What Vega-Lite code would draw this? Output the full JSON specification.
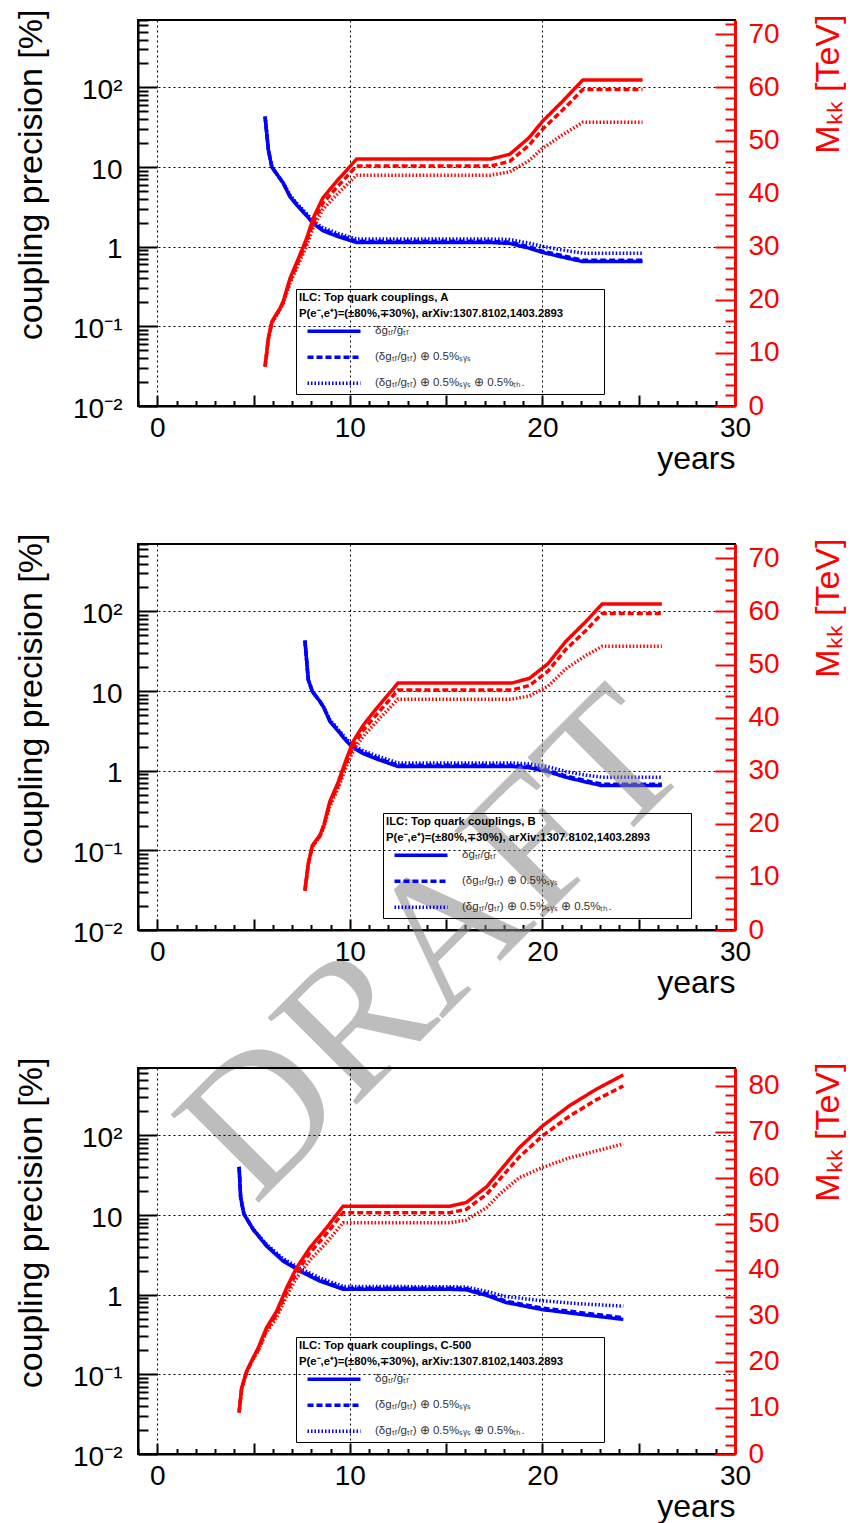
{
"$schema": "https://vega.github.io/schema/vega-lite/v6.json",
"background": "white",
"padding": {"left": 13, "top": 8, "right": 0, "bottom": 0},
"spacing": 138,
"bounds": "flush",
"config": {
 "font": "Liberation Sans",
 "view": {"stroke": "black", "strokeWidth": 2},
 "line": {"strokeWidth": 3.5, "strokeCap": "butt"},
 "axisBottom": {"labelFontSize": 28, "labelColor": "black", "labelFlush": false, "labelOverlap": false, "labelAngle": 0, "labelPadding": 19, "tickColor": "black", "tickWidth": 2, "domainColor": "black", "domainWidth": 2, "grid": true, "gridColor": "black", "gridDash": [2, 3], "gridWidth": 1, "titleFontSize": 32, "titleFontWeight": "normal", "titleColor": "black", "titleX": 597, "titleY": 62, "titleAlign": "right", "titleBaseline": "alphabetic"},
 "axisLeft": {"labelFontSize": 28, "labelColor": "black", "labelOverlap": false, "labelFlush": false, "labelPadding": 35, "labelOffset": 3, "tickColor": "black", "tickWidth": 2, "domainColor": "black", "domainWidth": 2, "grid": true, "gridColor": "black", "gridDash": [2, 3], "gridWidth": 1, "titleFontSize": 34, "titleFontWeight": "normal", "titleColor": "black", "titleAngle": 270, "titleX": -96.5, "titleY": -11, "titleAlign": "right", "titleBaseline": "alphabetic"},
 "axisRight": {"labelFontSize": 28, "labelColor": "#ff0000", "labelOverlap": false, "labelFlush": false, "labelPadding": 33, "tickColor": "#ff0000", "tickWidth": 2, "domainColor": "#ff0000", "domainWidth": 3, "grid": false, "titleFontSize": 34, "titleFontWeight": "normal", "titleColor": "#ff0000", "titleAngle": 270, "titleX": 103, "titleY": -6, "titleAlign": "right", "titleBaseline": "alphabetic"},
 "legend": {"titleFontSize": 11.3, "titleFontWeight": "bold", "titleColor": "black", "titleLimit": 1000, "titleLineHeight": 16, "titlePadding": 0, "labelFontSize": 11.5, "labelColor": "#333333", "labelLimit": 1000, "labelOffset": 29, "symbolType": "M-2.65,0H2.65", "symbolSize": 400, "symbolStrokeWidth": 3.5, "symbolStrokeColor": "#0000ff", "symbolOffset": 23, "rowPadding": 7, "strokeColor": "black", "padding": 3}
},
"datasets": {
 "Ap": [
  {"x":5.6,"k":"s","v":43},{"x":5.77,"k":"s","v":16.5},{"x":5.95,"k":"s","v":10},{"x":6.37,"k":"s","v":7.2},{"x":6.54,"k":"s","v":6.3},{"x":6.9,"k":"s","v":4.2},{"x":7.33,"k":"s","v":3.16},{"x":7.76,"k":"s","v":2.44},{"x":8.1,"k":"s","v":1.95},{"x":8.6,"k":"s","v":1.59},{"x":9.31,"k":"s","v":1.36},{"x":10.35,"k":"s","v":1.13},{"x":17.3,"k":"s","v":1.13},{"x":18.3,"k":"s","v":1.1},{"x":19.3,"k":"s","v":0.96},{"x":20.0,"k":"s","v":0.85},{"x":21.05,"k":"s","v":0.74},{"x":22.1,"k":"s","v":0.65},{"x":25.2,"k":"s","v":0.65},
  {"x":5.6,"k":"d","v":43},{"x":5.77,"k":"d","v":16.5},{"x":5.95,"k":"d","v":10},{"x":6.37,"k":"d","v":7.2},{"x":6.54,"k":"d","v":6.3},{"x":6.9,"k":"d","v":4.29},{"x":7.33,"k":"d","v":3.22},{"x":7.76,"k":"d","v":2.49},{"x":8.1,"k":"d","v":2.01},{"x":8.6,"k":"d","v":1.64},{"x":9.31,"k":"d","v":1.41},{"x":10.35,"k":"d","v":1.17},{"x":17.3,"k":"d","v":1.17},{"x":18.3,"k":"d","v":1.14},{"x":19.3,"k":"d","v":1.0},{"x":20.0,"k":"d","v":0.88},{"x":21.05,"k":"d","v":0.77},{"x":22.1,"k":"d","v":0.676},{"x":25.2,"k":"d","v":0.676},
  {"x":5.6,"k":"t","v":43},{"x":5.77,"k":"t","v":16.5},{"x":5.95,"k":"t","v":10},{"x":6.37,"k":"t","v":7.2},{"x":6.54,"k":"t","v":6.36},{"x":6.9,"k":"t","v":4.42},{"x":7.33,"k":"t","v":3.33},{"x":7.76,"k":"t","v":2.6},{"x":8.1,"k":"t","v":2.1},{"x":8.6,"k":"t","v":1.73},{"x":9.31,"k":"t","v":1.49},{"x":10.35,"k":"t","v":1.25},{"x":17.3,"k":"t","v":1.25},{"x":18.3,"k":"t","v":1.23},{"x":19.3,"k":"t","v":1.11},{"x":20.0,"k":"t","v":1.01},{"x":21.05,"k":"t","v":0.91},{"x":22.1,"k":"t","v":0.83},{"x":25.2,"k":"t","v":0.83}
 ],
 "Am": [
  {"x":5.6,"k":"s","v":7.5},{"x":5.77,"k":"s","v":12.8},{"x":5.95,"k":"s","v":15.9},{"x":6.37,"k":"s","v":18.4},{"x":6.54,"k":"s","v":19.7},{"x":6.9,"k":"s","v":24.1},{"x":7.33,"k":"s","v":27.8},{"x":7.76,"k":"s","v":31.6},{"x":8.1,"k":"s","v":35.4},{"x":8.6,"k":"s","v":39.2},{"x":9.31,"k":"s","v":42.3},{"x":10.35,"k":"s","v":46.5},{"x":17.3,"k":"s","v":46.5},{"x":18.3,"k":"s","v":47.4},{"x":19.3,"k":"s","v":50.5},{"x":20.0,"k":"s","v":53.6},{"x":21.05,"k":"s","v":57.4},{"x":22.1,"k":"s","v":61.4},{"x":25.2,"k":"s","v":61.4},
  {"x":5.6,"k":"d","v":7.43},{"x":5.77,"k":"d","v":12.67},{"x":5.95,"k":"d","v":15.74},{"x":6.37,"k":"d","v":18.22},{"x":6.54,"k":"d","v":19.5},{"x":6.9,"k":"d","v":23.62},{"x":7.33,"k":"d","v":27.24},{"x":7.76,"k":"d","v":30.97},{"x":8.1,"k":"d","v":34.52},{"x":8.6,"k":"d","v":38.22},{"x":9.31,"k":"d","v":41.12},{"x":10.35,"k":"d","v":45.2},{"x":17.3,"k":"d","v":45.2},{"x":18.3,"k":"d","v":46.07},{"x":19.3,"k":"d","v":49.09},{"x":20.0,"k":"d","v":52.1},{"x":21.05,"k":"d","v":55.74},{"x":22.1,"k":"d","v":59.62},{"x":25.2,"k":"d","v":59.62},
  {"x":5.6,"k":"t","v":7.39},{"x":5.77,"k":"t","v":12.61},{"x":5.95,"k":"t","v":15.66},{"x":6.37,"k":"t","v":18.12},{"x":6.54,"k":"t","v":19.31},{"x":6.9,"k":"t","v":23.14},{"x":7.33,"k":"t","v":26.69},{"x":7.76,"k":"t","v":30.18},{"x":8.1,"k":"t","v":33.63},{"x":8.6,"k":"t","v":37.04},{"x":9.31,"k":"t","v":39.76},{"x":10.35,"k":"t","v":43.48},{"x":17.3,"k":"t","v":43.48},{"x":18.3,"k":"t","v":44.08},{"x":19.3,"k":"t","v":46.21},{"x":20.0,"k":"t","v":48.51},{"x":21.05,"k":"t","v":51.09},{"x":22.1,"k":"t","v":53.42},{"x":25.2,"k":"t","v":53.42}
 ],
 "Bp": [
  {"x":7.67,"k":"s","v":43},{"x":7.84,"k":"s","v":14},{"x":8.05,"k":"s","v":9.9},{"x":8.45,"k":"s","v":7.4},{"x":8.65,"k":"s","v":6.2},{"x":8.96,"k":"s","v":4.17},{"x":9.4,"k":"s","v":3.13},{"x":9.83,"k":"s","v":2.34},{"x":10.17,"k":"s","v":1.94},{"x":10.7,"k":"s","v":1.64},{"x":11.4,"k":"s","v":1.4},{"x":12.5,"k":"s","v":1.13},{"x":18.4,"k":"s","v":1.13},{"x":19.33,"k":"s","v":1.09},{"x":20.3,"k":"s","v":0.97},{"x":21.2,"k":"s","v":0.83},{"x":22.26,"k":"s","v":0.72},{"x":23.1,"k":"s","v":0.65},{"x":26.2,"k":"s","v":0.65},
  {"x":7.67,"k":"d","v":43},{"x":7.84,"k":"d","v":14},{"x":8.05,"k":"d","v":9.9},{"x":8.45,"k":"d","v":7.4},{"x":8.65,"k":"d","v":6.2},{"x":8.96,"k":"d","v":4.26},{"x":9.4,"k":"d","v":3.19},{"x":9.83,"k":"d","v":2.39},{"x":10.17,"k":"d","v":2.0},{"x":10.7,"k":"d","v":1.69},{"x":11.4,"k":"d","v":1.45},{"x":12.5,"k":"d","v":1.17},{"x":18.4,"k":"d","v":1.17},{"x":19.33,"k":"d","v":1.13},{"x":20.3,"k":"d","v":1.01},{"x":21.2,"k":"d","v":0.86},{"x":22.26,"k":"d","v":0.75},{"x":23.1,"k":"d","v":0.676},{"x":26.2,"k":"d","v":0.676},
  {"x":7.67,"k":"t","v":43},{"x":7.84,"k":"t","v":14},{"x":8.05,"k":"t","v":9.9},{"x":8.45,"k":"t","v":7.4},{"x":8.65,"k":"t","v":6.26},{"x":8.96,"k":"t","v":4.39},{"x":9.4,"k":"t","v":3.29},{"x":9.83,"k":"t","v":2.49},{"x":10.17,"k":"t","v":2.09},{"x":10.7,"k":"t","v":1.78},{"x":11.4,"k":"t","v":1.54},{"x":12.5,"k":"t","v":1.25},{"x":18.4,"k":"t","v":1.25},{"x":19.33,"k":"t","v":1.22},{"x":20.3,"k":"t","v":1.12},{"x":21.2,"k":"t","v":0.98},{"x":22.26,"k":"t","v":0.88},{"x":23.1,"k":"t","v":0.83},{"x":26.2,"k":"t","v":0.83}
 ],
 "Bm": [
  {"x":7.67,"k":"s","v":7.5},{"x":7.84,"k":"s","v":12.5},{"x":8.05,"k":"s","v":15.9},{"x":8.45,"k":"s","v":17.9},{"x":8.65,"k":"s","v":19.8},{"x":8.96,"k":"s","v":24.2},{"x":9.4,"k":"s","v":27.9},{"x":9.83,"k":"s","v":32.3},{"x":10.17,"k":"s","v":35.5},{"x":10.7,"k":"s","v":38.6},{"x":11.4,"k":"s","v":41.8},{"x":12.5,"k":"s","v":46.5},{"x":18.4,"k":"s","v":46.5},{"x":19.33,"k":"s","v":47.4},{"x":20.3,"k":"s","v":50.2},{"x":21.2,"k":"s","v":54.3},{"x":22.26,"k":"s","v":58.1},{"x":23.1,"k":"s","v":61.4},{"x":26.2,"k":"s","v":61.4},
  {"x":7.67,"k":"d","v":7.43},{"x":7.84,"k":"d","v":12.38},{"x":8.05,"k":"d","v":15.74},{"x":8.45,"k":"d","v":17.72},{"x":8.65,"k":"d","v":19.6},{"x":8.96,"k":"d","v":23.72},{"x":9.4,"k":"d","v":27.34},{"x":9.83,"k":"d","v":31.65},{"x":10.17,"k":"d","v":34.61},{"x":10.7,"k":"d","v":37.64},{"x":11.4,"k":"d","v":40.63},{"x":12.5,"k":"d","v":45.2},{"x":18.4,"k":"d","v":45.2},{"x":19.33,"k":"d","v":46.07},{"x":20.3,"k":"d","v":48.79},{"x":21.2,"k":"d","v":52.78},{"x":22.26,"k":"d","v":56.42},{"x":23.1,"k":"d","v":59.62},{"x":26.2,"k":"d","v":59.62},
  {"x":7.67,"k":"t","v":7.39},{"x":7.84,"k":"t","v":12.31},{"x":8.05,"k":"t","v":15.66},{"x":8.45,"k":"t","v":17.63},{"x":8.65,"k":"t","v":19.4},{"x":8.96,"k":"t","v":23.23},{"x":9.4,"k":"t","v":26.78},{"x":9.83,"k":"t","v":30.85},{"x":10.17,"k":"t","v":33.73},{"x":10.7,"k":"t","v":36.48},{"x":11.4,"k":"t","v":39.29},{"x":12.5,"k":"t","v":43.48},{"x":18.4,"k":"t","v":43.48},{"x":19.33,"k":"t","v":44.08},{"x":20.3,"k":"t","v":45.93},{"x":21.2,"k":"t","v":49.14},{"x":22.26,"k":"t","v":51.71},{"x":23.1,"k":"t","v":53.42},{"x":26.2,"k":"t","v":53.42}
 ],
 "Cp": [
  {"x":4.25,"k":"s","v":40.4},{"x":4.33,"k":"s","v":16.6},{"x":4.5,"k":"s","v":10.3},{"x":4.98,"k":"s","v":6.6},{"x":5.67,"k":"s","v":4.1},{"x":6.53,"k":"s","v":2.65},{"x":7.39,"k":"s","v":1.99},{"x":8.42,"k":"s","v":1.49},{"x":9.65,"k":"s","v":1.17},{"x":15.2,"k":"s","v":1.17},{"x":16.05,"k":"s","v":1.15},{"x":17.1,"k":"s","v":0.98},{"x":18.1,"k":"s","v":0.8},{"x":20.0,"k":"s","v":0.65},{"x":21.9,"k":"s","v":0.57},{"x":24.2,"k":"s","v":0.49},
  {"x":4.25,"k":"d","v":40.4},{"x":4.33,"k":"d","v":16.6},{"x":4.5,"k":"d","v":10.3},{"x":4.98,"k":"d","v":6.6},{"x":5.67,"k":"d","v":4.2},{"x":6.53,"k":"d","v":2.72},{"x":7.39,"k":"d","v":2.05},{"x":8.42,"k":"d","v":1.54},{"x":9.65,"k":"d","v":1.21},{"x":15.2,"k":"d","v":1.21},{"x":16.05,"k":"d","v":1.19},{"x":17.1,"k":"d","v":1.02},{"x":18.1,"k":"d","v":0.83},{"x":20.0,"k":"d","v":0.68},{"x":21.9,"k":"d","v":0.6},{"x":24.2,"k":"d","v":0.515},
  {"x":4.25,"k":"t","v":40.4},{"x":4.33,"k":"t","v":16.6},{"x":4.5,"k":"t","v":10.4},{"x":4.98,"k":"t","v":6.7},{"x":5.67,"k":"t","v":4.3},{"x":6.53,"k":"t","v":2.85},{"x":7.39,"k":"t","v":2.16},{"x":8.42,"k":"t","v":1.64},{"x":9.65,"k":"t","v":1.27},{"x":15.2,"k":"t","v":1.26},{"x":16.05,"k":"t","v":1.25},{"x":17.1,"k":"t","v":1.1},{"x":18.1,"k":"t","v":0.95},{"x":20.0,"k":"t","v":0.84},{"x":21.9,"k":"t","v":0.77},{"x":24.2,"k":"t","v":0.72}
 ],
 "Cm": [
  {"x":4.25,"k":"s","v":9.1},{"x":4.38,"k":"s","v":14.3},{"x":4.64,"k":"s","v":18.0},{"x":4.98,"k":"s","v":20.9},{"x":5.24,"k":"s","v":23.0},{"x":5.67,"k":"s","v":27.4},{"x":6.2,"k":"s","v":31.0},{"x":6.72,"k":"s","v":36.1},{"x":7.23,"k":"s","v":40.4},{"x":7.93,"k":"s","v":44.8},{"x":8.79,"k":"s","v":49.1},{"x":9.65,"k":"s","v":53.8},{"x":15.2,"k":"s","v":53.8},{"x":16.05,"k":"s","v":54.6},{"x":17.1,"k":"s","v":58.0},{"x":17.8,"k":"s","v":61.5},{"x":18.8,"k":"s","v":66.5},{"x":20.0,"k":"s","v":71.2},{"x":21.4,"k":"s","v":75.6},{"x":22.8,"k":"s","v":79.2},{"x":24.2,"k":"s","v":82.3},
  {"x":4.25,"k":"d","v":9.0},{"x":4.38,"k":"d","v":14.16},{"x":4.64,"k":"d","v":17.82},{"x":4.98,"k":"d","v":20.69},{"x":5.24,"k":"d","v":22.54},{"x":5.67,"k":"d","v":26.85},{"x":6.2,"k":"d","v":30.38},{"x":6.72,"k":"d","v":35.2},{"x":7.23,"k":"d","v":39.39},{"x":7.93,"k":"d","v":43.68},{"x":8.79,"k":"d","v":47.82},{"x":9.65,"k":"d","v":52.4},{"x":15.2,"k":"d","v":52.4},{"x":16.05,"k":"d","v":53.13},{"x":17.1,"k":"d","v":56.38},{"x":17.8,"k":"d","v":59.72},{"x":18.8,"k":"d","v":64.5},{"x":20.0,"k":"d","v":69.06},{"x":21.4,"k":"d","v":73.33},{"x":22.8,"k":"d","v":76.9},{"x":24.2,"k":"d","v":79.91},
  {"x":4.25,"k":"t","v":8.96},{"x":4.38,"k":"t","v":14.09},{"x":4.64,"k":"t","v":17.73},{"x":4.98,"k":"t","v":20.59},{"x":5.24,"k":"t","v":22.43},{"x":5.67,"k":"t","v":26.44},{"x":6.2,"k":"t","v":29.61},{"x":6.72,"k":"t","v":34.3},{"x":7.23,"k":"t","v":38.18},{"x":7.93,"k":"t","v":42.11},{"x":8.79,"k":"t","v":45.91},{"x":9.65,"k":"t","v":50.2},{"x":15.2,"k":"t","v":50.2},{"x":16.05,"k":"t","v":50.8},{"x":17.1,"k":"t","v":53.5},{"x":17.8,"k":"t","v":56.5},{"x":18.8,"k":"t","v":60.0},{"x":20.0,"k":"t","v":62.2},{"x":21.4,"k":"t","v":64.3},{"x":22.8,"k":"t","v":65.8},{"x":24.2,"k":"t","v":67.3}
 ],
 "W": [{"x": 14.4, "m": -3, "w": "DRAFT"}]
},
"vconcat": [
 {
  "width": 597, "height": 386,
  "encoding": {
   "x": {"field": "x", "type": "quantitative", "scale": {"domain": [-1, 30], "nice": false, "zero": false},
    "axis": {"orient": "bottom", "title": "years", "values": [-1,0,1,2,3,4,5,6,7,8,9,10,11,12,13,14,15,16,17,18,19,20,21,22,23,24,25,26,27,28,29,30], "labelExpr": "datum.value % 10 == 0 ? datum.label : ''", "tickSize": {"condition": {"test": "datum.value % 5 == 0", "value": -11}, "value": -5.5}, "gridOpacity": {"condition": {"test": "datum.value == 0 || datum.value == 10 || datum.value == 20", "value": 1}, "value": 0}}}
  },
  "layer": [
   {
    "data": {"name": "Ap"},
    "mark": {"type": "line", "color": "#0000ff"},
    "encoding": {
     "y": {"field": "v", "type": "quantitative", "scale": {"type": "log", "domain": [0.01, 703], "nice": false},
      "axis": {"orient": "left", "title": "coupling precision [%]", "values": [0.01,0.02,0.03,0.04,0.05,0.06,0.07,0.08,0.09,0.1,0.2,0.3,0.4,0.5,0.6,0.7,0.8,0.9,1,2,3,4,5,6,7,8,9,10,20,30,40,50,60,70,80,90,100,200,300,400,500,600,700], "labelExpr": "datum.value == 0.01 ? '10⁻²' : datum.value == 0.1 ? '10⁻¹' : datum.value == 1 ? '1' : datum.value == 10 ? '10' : datum.value == 100 ? '10²' : ''", "tickSize": {"condition": {"test": "indexof([0.01,0.1,1,10,100], datum.value) >= 0", "value": -19}, "value": -10}, "gridOpacity": {"condition": {"test": "indexof([0.1,1,10,100], datum.value) >= 0", "value": 1}, "value": 0}}},
     "strokeDash": {"field": "k", "type": "nominal", "scale": {"domain": ["s", "d", "t"], "range": [[1, 0], [6, 3], [1.5, 2]]},
      "legend": {"orient": "none", "legendX": 158, "legendY": 269, "title": ["ILC: Top quark couplings, A", "P(e⁻,e⁺)=(±80%,∓30%), arXiv:1307.8102,1403.2893\u00a0\u00a0\u00a0\u00a0\u00a0\u00a0\u00a0\u00a0\u00a0\u00a0\u00a0\u00a0\u200b"], "labelExpr": "datum.value == 's' ? 'δgₜᵣ/gₜᵣ' : datum.value == 'd' ? '(δgₜᵣ/gₜᵣ) ⊕ 0.5%ₛᵧₛ' : '(δgₜᵣ/gₜᵣ) ⊕ 0.5%ₛᵧₛ ⊕ 0.5%ₜₕ.'"}}
    }
   },
   {
    "data": {"name": "Am"},
    "mark": {"type": "line", "color": "#ff0000"},
    "encoding": {
     "y": {"field": "v", "type": "quantitative", "scale": {"domain": [0, 72.7], "nice": false, "zero": false},
      "axis": {"orient": "right", "title": "Mₖₖ [TeV]", "values": [0,2,4,6,8,10,12,14,16,18,20,22,24,26,28,30,32,34,36,38,40,42,44,46,48,50,52,54,56,58,60,62,64,66,68,70,72], "labelExpr": "datum.value % 10 == 0 ? datum.label : ''", "tickSize": {"condition": {"test": "datum.value % 10 == 0", "value": -20}, "value": -10}}},
     "strokeDash": {"field": "k", "type": "nominal", "scale": {"domain": ["s", "d", "t"], "range": [[1, 0], [6, 3], [1.5, 2]]}, "legend": null}
    }
   }
  ],
  "resolve": {"scale": {"y": "independent", "strokeDash": "independent"}}
 },
 {
  "width": 597, "height": 386,
  "encoding": {
   "x": {"field": "x", "type": "quantitative", "scale": {"domain": [-1, 30], "nice": false, "zero": false},
    "axis": {"orient": "bottom", "title": "years", "values": [-1,0,1,2,3,4,5,6,7,8,9,10,11,12,13,14,15,16,17,18,19,20,21,22,23,24,25,26,27,28,29,30], "labelExpr": "datum.value % 10 == 0 ? datum.label : ''", "tickSize": {"condition": {"test": "datum.value % 5 == 0", "value": -11}, "value": -5.5}, "gridOpacity": {"condition": {"test": "datum.value == 0 || datum.value == 10 || datum.value == 20", "value": 1}, "value": 0}}}
  },
  "layer": [
   {
    "data": {"name": "Bp"},
    "mark": {"type": "line", "color": "#0000ff"},
    "encoding": {
     "y": {"field": "v", "type": "quantitative", "scale": {"type": "log", "domain": [0.01, 703], "nice": false},
      "axis": {"orient": "left", "title": "coupling precision [%]", "values": [0.01,0.02,0.03,0.04,0.05,0.06,0.07,0.08,0.09,0.1,0.2,0.3,0.4,0.5,0.6,0.7,0.8,0.9,1,2,3,4,5,6,7,8,9,10,20,30,40,50,60,70,80,90,100,200,300,400,500,600,700], "labelExpr": "datum.value == 0.01 ? '10⁻²' : datum.value == 0.1 ? '10⁻¹' : datum.value == 1 ? '1' : datum.value == 10 ? '10' : datum.value == 100 ? '10²' : ''", "tickSize": {"condition": {"test": "indexof([0.01,0.1,1,10,100], datum.value) >= 0", "value": -19}, "value": -10}, "gridOpacity": {"condition": {"test": "indexof([0.1,1,10,100], datum.value) >= 0", "value": 1}, "value": 0}}},
     "strokeDash": {"field": "k", "type": "nominal", "scale": {"domain": ["s", "d", "t"], "range": [[1, 0], [6, 3], [1.5, 2]]},
      "legend": {"orient": "none", "legendX": 245, "legendY": 269, "title": ["ILC: Top quark couplings, B", "P(e⁻,e⁺)=(±80%,∓30%), arXiv:1307.8102,1403.2893\u00a0\u00a0\u00a0\u00a0\u00a0\u00a0\u00a0\u00a0\u00a0\u00a0\u00a0\u00a0\u200b"], "labelExpr": "datum.value == 's' ? 'δgₜᵣ/gₜᵣ' : datum.value == 'd' ? '(δgₜᵣ/gₜᵣ) ⊕ 0.5%ₛᵧₛ' : '(δgₜᵣ/gₜᵣ) ⊕ 0.5%ₛᵧₛ ⊕ 0.5%ₜₕ.'"}}
    }
   },
   {
    "data": {"name": "Bm"},
    "mark": {"type": "line", "color": "#ff0000"},
    "encoding": {
     "y": {"field": "v", "type": "quantitative", "scale": {"domain": [0, 72.7], "nice": false, "zero": false},
      "axis": {"orient": "right", "title": "Mₖₖ [TeV]", "values": [0,2,4,6,8,10,12,14,16,18,20,22,24,26,28,30,32,34,36,38,40,42,44,46,48,50,52,54,56,58,60,62,64,66,68,70,72], "labelExpr": "datum.value % 10 == 0 ? datum.label : ''", "tickSize": {"condition": {"test": "datum.value % 10 == 0", "value": -20}, "value": -10}}},
     "strokeDash": {"field": "k", "type": "nominal", "scale": {"domain": ["s", "d", "t"], "range": [[1, 0], [6, 3], [1.5, 2]]}, "legend": null}
    }
   },
   {
    "data": {"name": "W"},
    "mark": {"type": "text", "font": "Liberation Serif", "fontSize": 190, "angle": -45, "color": "#888888", "opacity": 0.55, "align": "center", "baseline": "middle"},
    "encoding": {
     "y": {"field": "m", "type": "quantitative", "scale": {"domain": [0, 72.7], "nice": false, "zero": false}, "axis": null},
     "text": {"field": "w", "type": "nominal"}
    }
   }
  ],
  "resolve": {"scale": {"y": "independent", "strokeDash": "independent"}}
 },
 {
  "width": 597, "height": 386,
  "encoding": {
   "x": {"field": "x", "type": "quantitative", "scale": {"domain": [-1, 30], "nice": false, "zero": false},
    "axis": {"orient": "bottom", "title": "years", "values": [-1,0,1,2,3,4,5,6,7,8,9,10,11,12,13,14,15,16,17,18,19,20,21,22,23,24,25,26,27,28,29,30], "labelExpr": "datum.value % 10 == 0 ? datum.label : ''", "tickSize": {"condition": {"test": "datum.value % 5 == 0", "value": -11}, "value": -5.5}, "gridOpacity": {"condition": {"test": "datum.value == 0 || datum.value == 10 || datum.value == 20", "value": 1}, "value": 0}}}
  },
  "layer": [
   {
    "data": {"name": "Cp"},
    "mark": {"type": "line", "color": "#0000ff"},
    "encoding": {
     "y": {"field": "v", "type": "quantitative", "scale": {"type": "log", "domain": [0.01, 703], "nice": false},
      "axis": {"orient": "left", "title": "coupling precision [%]", "values": [0.01,0.02,0.03,0.04,0.05,0.06,0.07,0.08,0.09,0.1,0.2,0.3,0.4,0.5,0.6,0.7,0.8,0.9,1,2,3,4,5,6,7,8,9,10,20,30,40,50,60,70,80,90,100,200,300,400,500,600,700], "labelExpr": "datum.value == 0.01 ? '10⁻²' : datum.value == 0.1 ? '10⁻¹' : datum.value == 1 ? '1' : datum.value == 10 ? '10' : datum.value == 100 ? '10²' : ''", "tickSize": {"condition": {"test": "indexof([0.01,0.1,1,10,100], datum.value) >= 0", "value": -19}, "value": -10}, "gridOpacity": {"condition": {"test": "indexof([0.1,1,10,100], datum.value) >= 0", "value": 1}, "value": 0}}},
     "strokeDash": {"field": "k", "type": "nominal", "scale": {"domain": ["s", "d", "t"], "range": [[1, 0], [6, 3], [1.5, 2]]},
      "legend": {"orient": "none", "legendX": 158, "legendY": 269, "title": ["ILC: Top quark couplings, C-500", "P(e⁻,e⁺)=(±80%,∓30%), arXiv:1307.8102,1403.2893\u00a0\u00a0\u00a0\u00a0\u00a0\u00a0\u00a0\u00a0\u00a0\u00a0\u00a0\u00a0\u200b"], "labelExpr": "datum.value == 's' ? 'δgₜᵣ/gₜᵣ' : datum.value == 'd' ? '(δgₜᵣ/gₜᵣ) ⊕ 0.5%ₛᵧₛ' : '(δgₜᵣ/gₜᵣ) ⊕ 0.5%ₛᵧₛ ⊕ 0.5%ₜₕ.'"}}
    }
   },
   {
    "data": {"name": "Cm"},
    "mark": {"type": "line", "color": "#ff0000"},
    "encoding": {
     "y": {"field": "v", "type": "quantitative", "scale": {"domain": [0, 83.8], "nice": false, "zero": false},
      "axis": {"orient": "right", "title": "Mₖₖ [TeV]", "values": [0,2,4,6,8,10,12,14,16,18,20,22,24,26,28,30,32,34,36,38,40,42,44,46,48,50,52,54,56,58,60,62,64,66,68,70,72,74,76,78,80,82], "labelExpr": "datum.value % 10 == 0 ? datum.label : ''", "tickSize": {"condition": {"test": "datum.value % 10 == 0", "value": -20}, "value": -10}}},
     "strokeDash": {"field": "k", "type": "nominal", "scale": {"domain": ["s", "d", "t"], "range": [[1, 0], [6, 3], [1.5, 2]]}, "legend": null}
    }
   }
  ],
  "resolve": {"scale": {"y": "independent", "strokeDash": "independent"}}
 }
]
}
